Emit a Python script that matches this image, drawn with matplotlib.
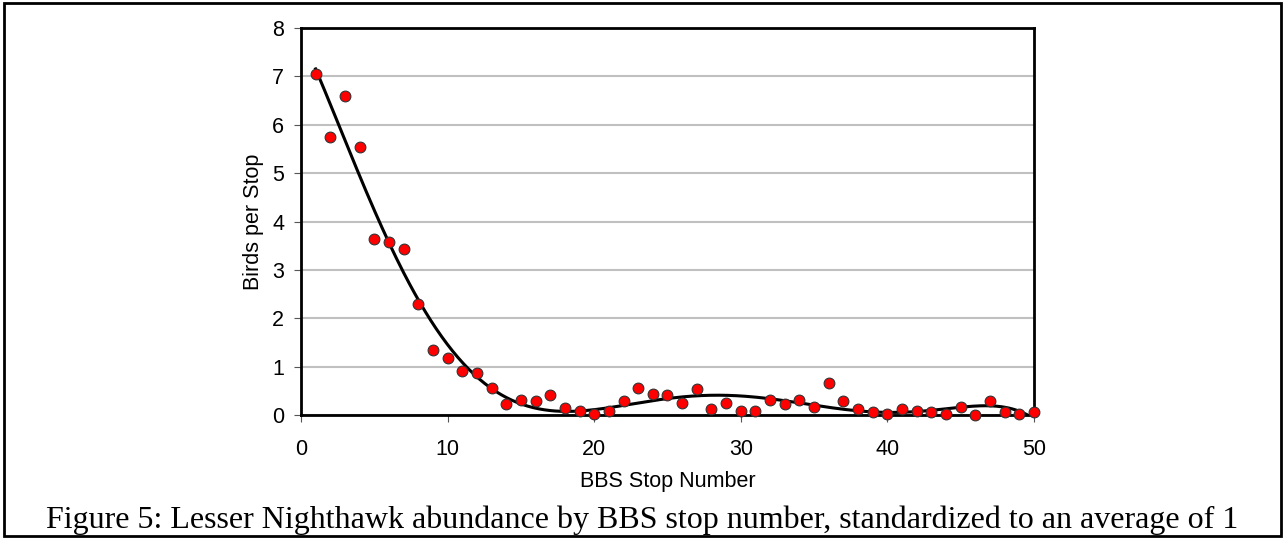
import matplotlib.pyplot as plt
import numpy as np

stops = list(range(1, 51))
birds_per_stop = [7.05, 5.74, 6.6, 5.54, 3.64, 3.58, 3.43, 2.3, 1.35, 1.18,
                  0.92, 0.86, 0.56, 0.22, 0.32, 0.28, 0.41, 0.14, 0.09, 0.03,
                  0.08, 0.28, 0.55, 0.43, 0.41, 0.25, 0.54, 0.12, 0.24, 0.09,
                  0.09, 0.31, 0.23, 0.31, 0.16, 0.67, 0.28, 0.12, 0.07, 0.03,
                  0.12, 0.09, 0.07, 0.03, 0.17, 0.0, 0.29, 0.07, 0.02, 0.06]

x_ticks = [0, 10, 20, 30, 40, 50]
y_ticks = [0, 1, 2, 3, 4, 5, 6, 7, 8]
caption = 'Figure 5: Lesser Nighthawk abundance by BBS stop number, standardized to an average of 1'

plt.rcParams['font.family'] = ['Liberation Sans', 'DejaVu Sans']

fig = plt.figure(figsize=(12.85, 5.39), dpi=100)
ax = fig.add_axes([0.2342, 0.230, 0.5705, 0.718])

# polynomial trendline, as in the original spreadsheet chart
coef = np.polyfit(stops, birds_per_stop, 6)
xs = np.linspace(stops[0], stops[-1], 400)
ax.plot(xs, np.polyval(coef, xs), color='black', lw=2.2, zorder=3)

ax.scatter(stops, birds_per_stop, s=60, color='#ff0000', edgecolor='#333333',
           linewidth=0.8, zorder=4, clip_on=False)

ax.set_xlim(0, 50)
ax.set_ylim(0, 8)
ax.set_xticks(x_ticks)
ax.set_yticks(y_ticks)
ax.grid(axis='y', color='#c0c0c0', lw=1.5)
ax.set_axisbelow(True)
for s in ax.spines.values():
    s.set_linewidth(2)
ax.tick_params(labelsize=15.5, length=5, width=0.8, color='#555555')
ax.tick_params(axis='x', pad=12)
ax.tick_params(axis='y', pad=7)
ax.set_xlabel('BBS Stop Number', fontsize=15.5, labelpad=8)
ax.set_ylabel('Birds per Stop', fontsize=15.5, labelpad=6)

fig.text(0.5, 0.021, caption, ha='center', va='baseline', fontsize=23,
         family=['Liberation Serif', 'DejaVu Serif'])

border = plt.Rectangle((0.003, 0.005), 0.994, 0.99, transform=fig.transFigure,
                       fill=False, edgecolor='black', lw=2)
fig.patches.append(border)

fig.savefig('out.png', dpi=100)
